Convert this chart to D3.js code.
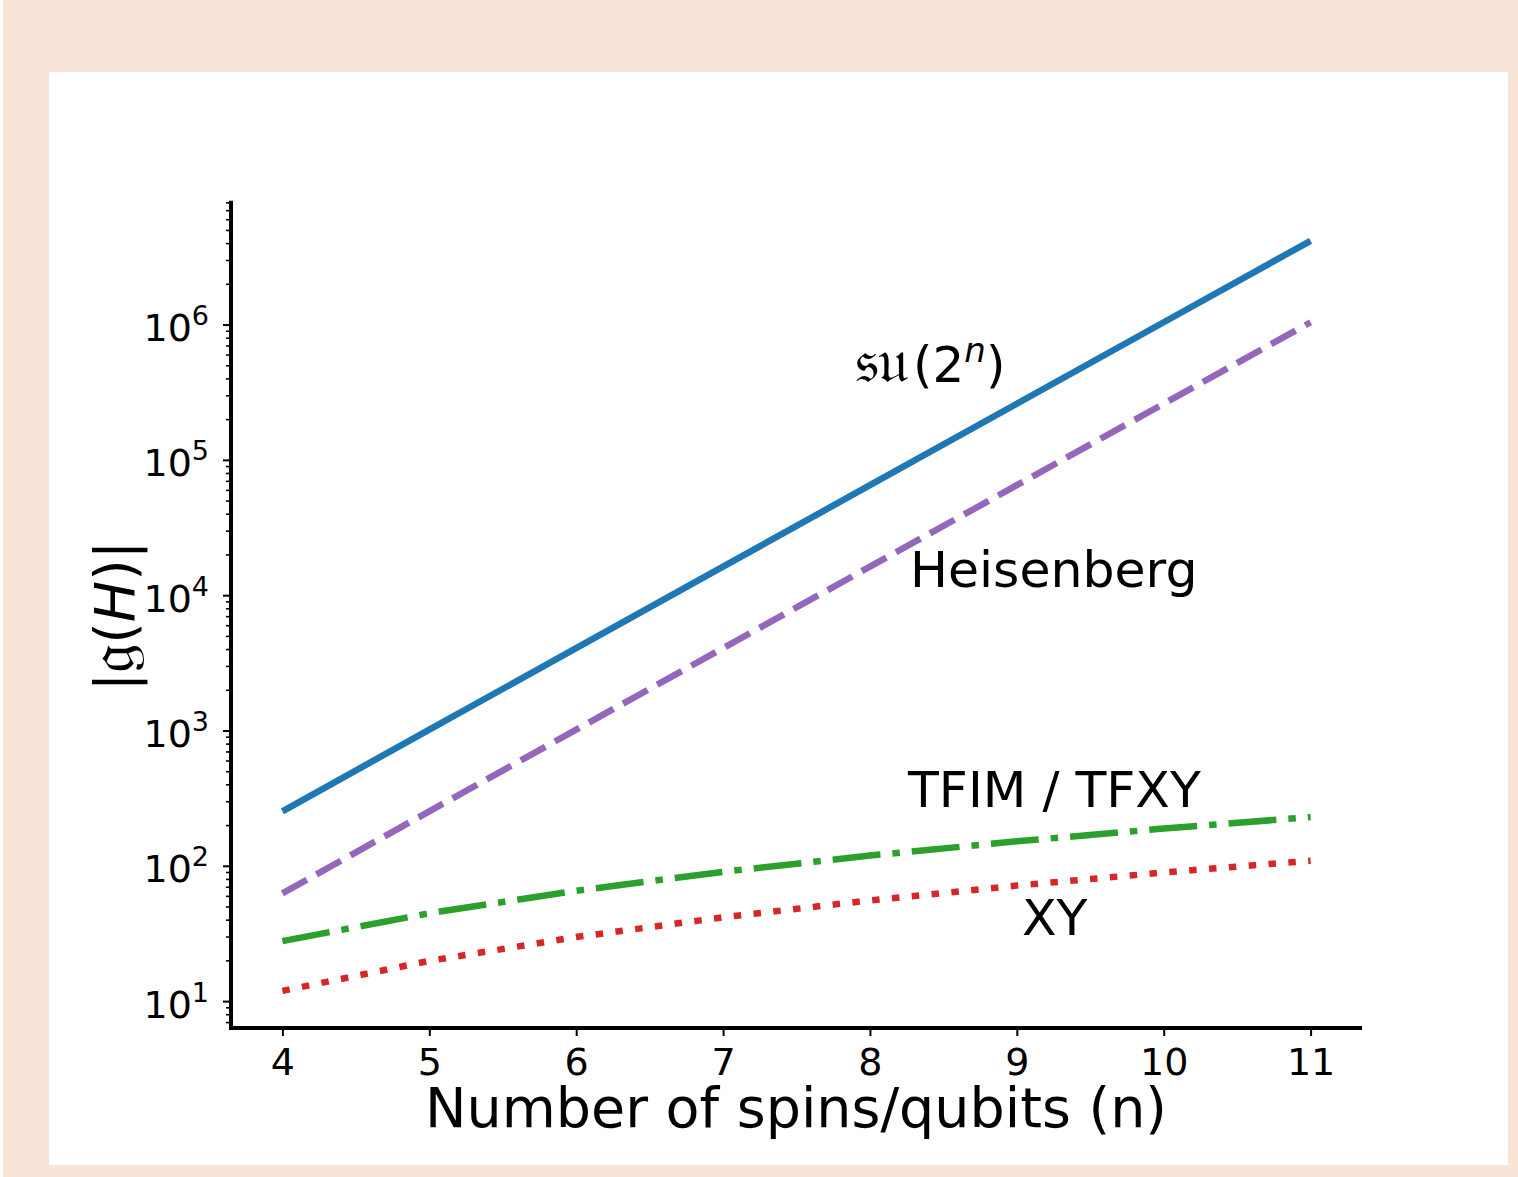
<!DOCTYPE html>
<html>
<head>
<meta charset="utf-8">
<script src="https://cdn.jsdelivr.net/npm/d3@7"></script>
<style>
  html, body { margin: 0; padding: 0; background: #ffffff; }
  svg { display: block; }
  text { font-family: "DejaVu Sans", sans-serif; fill: #000; }
</style>
</head>
<body>
<svg id="chart" width="1518" height="1177"></svg>
<script>
// ---- data ----
const nValues = [4, 5, 6, 7, 8, 9, 10, 11];
const su2n = [255, 1023, 4095, 16383, 65535, 262143, 1048575, 4194303];
const heisenberg = [63, 255, 1023, 4095, 16383, 65535, 262143, 1048575];
const tfim = [28, 45, 66, 91, 120, 153, 190, 231];
const xy = [12, 20, 30, 42, 56, 72, 90, 110];
const xTickValues = [4, 5, 6, 7, 8, 9, 10, 11];
const yTickExponents = [1, 2, 3, 4, 5, 6];
const labels = ["𝔰𝔲(2ⁿ)", "Heisenberg", "TFIM / TFXY", "XY"];

const svg = d3.select("#chart");

// background
svg.append("rect").attr("x", 3).attr("y", 0).attr("width", 1515).attr("height", 1177).attr("fill", "#f9e4d8");
svg.append("rect").attr("x", 49).attr("y", 72).attr("width", 1459).attr("height", 1093).attr("fill", "#ffffff");

const x = d3.scaleLinear().domain([3.65, 11.35]).range([231, 1362]);
const y = d3.scaleLog().domain([Math.pow(10, 0.805), Math.pow(10, 6.919)]).range([1028, 200.7]);

const series = [
  { vals: su2n, color: "#1f77b4", dash: null },
  { vals: heisenberg, color: "#9467bd", dash: "28,11" },
  { vals: tfim, color: "#2ca02c", dash: "48,12,7.5,12" },
  { vals: xy, color: "#d62728", dash: "7.5,12.4" }
];

const line = d3.line().x(d => x(d[0])).y(d => y(d[1]));
series.forEach(s => {
  svg.append("path")
    .datum(nValues.map((n, i) => [n, s.vals[i]]))
    .attr("d", line)
    .attr("fill", "none")
    .attr("stroke", s.color)
    .attr("stroke-width", 6.5)
    .attr("stroke-linecap", "butt")
    .attr("stroke-dasharray", s.dash);
});

// x axis
const xAxis = d3.axisBottom(x).tickValues(xTickValues).tickSize(8).tickPadding(10).tickFormat(d3.format("d"));
const gx = svg.append("g").attr("transform", "translate(0,1028)").call(xAxis);
gx.select(".domain").remove();
gx.selectAll(".tick line").attr("stroke", "#000").attr("stroke-width", 2);
gx.selectAll(".tick text").attr("font-size", 38).attr("font-family", "DejaVu Sans").attr("dy", "0.71em").attr("y", 20);

// y axis: major ticks
const gy = svg.append("g").attr("transform", "translate(231,0)");
const majors = yTickExponents.map(e => Math.pow(10, e));
const minors = [];
for (let e = 0; e <= 6; e++) for (let m = 2; m <= 9; m++) {
  const v = m * Math.pow(10, e);
  if (v >= y.domain()[0] && v <= y.domain()[1]) minors.push(v);
}
gy.selectAll("line.minor").data(minors).enter().append("line")
  .attr("x1", -5).attr("x2", 0).attr("y1", d => y(d)).attr("y2", d => y(d))
  .attr("stroke", "#000").attr("stroke-width", 1.6);
gy.selectAll("line.major").data(majors).enter().append("line")
  .attr("x1", -8).attr("x2", 0).attr("y1", d => y(d)).attr("y2", d => y(d))
  .attr("stroke", "#000").attr("stroke-width", 2);
const yl = gy.selectAll("text.ytick").data(yTickExponents).enter().append("text")
  .attr("x", -22).attr("y", e => y(Math.pow(10, e)) + 16)
  .attr("text-anchor", "end").attr("font-size", 38);
yl.append("tspan").text("10");
yl.append("tspan").text(e => e).attr("font-size", 27).attr("dy", -16);

// spines
svg.append("line").attr("x1", 231).attr("x2", 231).attr("y1", 200.7).attr("y2", 1030).attr("stroke", "#000").attr("stroke-width", 4);
svg.append("line").attr("x1", 229).attr("x2", 1362).attr("y1", 1028).attr("y2", 1028).attr("stroke", "#000").attr("stroke-width", 4);

// axis labels
svg.append("text").attr("x", 796).attr("y", 1127).attr("text-anchor", "middle").attr("font-size", 55.5)
  .text("Number of spins/qubits (n)");
const ylab = svg.append("text").attr("transform", "translate(134,616) rotate(-90)").attr("text-anchor", "middle").attr("font-size", 55);
ylab.append("tspan").text("|");
ylab.append("tspan").text("𝔤").attr("font-family", "DejaVu Serif, Noto Sans, serif").attr("font-size", 66);
ylab.append("tspan").text("(");
ylab.append("tspan").text("H").attr("font-style", "italic");
ylab.append("tspan").text(")|");

// annotations
const ann = svg.append("text").attr("x", 855).attr("y", 382).attr("font-size", 50);
ann.append("tspan").text("𝔰𝔲").attr("font-family", "DejaVu Serif, Noto Sans, serif").attr("font-size", 62);
ann.append("tspan").text("(2").attr("dx", 4);
ann.append("tspan").text("n").attr("font-style", "italic").attr("font-size", 34).attr("dy", -20);
ann.append("tspan").text(")").attr("dy", 20);

svg.append("text").attr("x", 910).attr("y", 587).attr("font-size", 50.5).text(labels[1]);
svg.append("text").attr("x", 908).attr("y", 807).attr("font-size", 50.5).text(labels[2]);
svg.append("text").attr("x", 1022).attr("y", 935).attr("font-size", 50.5).text(labels[3]);
</script>
</body>
</html>
